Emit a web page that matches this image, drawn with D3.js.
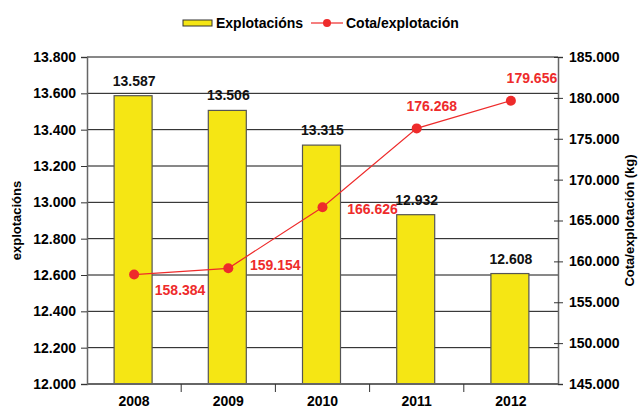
<!DOCTYPE html>
<html>
<head>
<meta charset="utf-8">
<script src="https://cdn.jsdelivr.net/npm/d3@7"></script>
<style>
  body { margin: 0; background: #fff; }
  text { font-family: "Liberation Sans", Arial, sans-serif; font-weight: bold; }
</style>
</head>
<body>
<script>
// data
const years = ["2008", "2009", "2010", "2011", "2012"];
const explotacions = [13587, 13506, 13315, 12932, 12608];
const cota = [158384, 159154, 166626, 176268, 179656];
const leftTicks = [12000, 12200, 12400, 12600, 12800, 13000, 13200, 13400, 13600, 13800];
const rightTicks = [145000, 150000, 155000, 160000, 165000, 170000, 175000, 180000, 185000];

// where each line label sits relative to its point
const cotaLabelOffset = [[46, 20], [47, 2], [50, 7], [15, -17], [21, -18]];

const W = 639, H = 410;
const margin = {top: 57, right: 81, bottom: 26, left: 87},
  width = W - margin.left - margin.right,
  height = H - margin.top - margin.bottom;

const fmt = v => d3.format(",")(v).replace(/,/g, ".");
const fs = "14px";

let svg = d3.select("body").append("svg")
  .attr("width", W)
  .attr("height", H);

let g = svg.append("g")
  .attr("transform", "translate(" + margin.left + "," + margin.top + ")");

let x = d3.scaleBand().domain(years).range([0, width]);
let yL = d3.scaleLinear().domain([12000, 13800]).range([height, 0]);
let yR = d3.scaleLinear().domain([145000, 185000]).range([height, 0]);

// gridlines
g.append("g")
  .selectAll("line")
  .data(leftTicks.slice(1))
  .enter().append("line")
  .attr("x1", 0).attr("x2", width)
  .attr("y1", d => yL(d)).attr("y2", d => yL(d))
  .attr("stroke", "#111").attr("stroke-width", 1);

// left axis
let axL = g.append("g")
  .call(d3.axisLeft(yL).tickValues(leftTicks).tickFormat(fmt).tickSize(6).tickPadding(5));
axL.selectAll("text").style("font-size", fs).attr("fill", "#000");

// right axis
let axR = g.append("g")
  .attr("transform", "translate(" + width + ",0)")
  .call(d3.axisRight(yR).tickValues(rightTicks).tickFormat(fmt).tickSize(5).tickPadding(6));
axR.selectAll("text").style("font-size", fs).attr("fill", "#000");
axR.selectAll(".tick line").attr("x1", -4);

[axL, axR].forEach(a => {
  a.select(".domain").attr("stroke", "#666").attr("stroke-width", 1.5);
  a.selectAll(".tick line").attr("stroke", "#333");
});

// bars
const barW = 38;
g.append("g")
  .selectAll("rect")
  .data(explotacions)
  .enter().append("rect")
  .attr("x", (d, i) => x(years[i]) + x.bandwidth() / 2 - barW / 2 - 1)
  .attr("y", d => yL(d))
  .attr("width", barW)
  .attr("height", d => height - yL(d))
  .attr("fill", "#f5e614")
  .attr("stroke", "#555")
  .attr("stroke-width", 1.2);

// bottom axis
let axB = g.append("g")
  .attr("transform", "translate(0," + height + ")");
axB.append("line")
  .attr("x1", 0).attr("x2", width)
  .attr("stroke", "#666").attr("stroke-width", 2);
axB.selectAll(".sep")
  .data(years.slice(1))
  .enter().append("line")
  .attr("x1", d => x(d)).attr("x2", d => x(d))
  .attr("y1", 0).attr("y2", 8)
  .attr("stroke", "#333");
axB.selectAll("text")
  .data(years)
  .enter().append("text")
  .attr("x", d => x(d) + x.bandwidth() / 2)
  .attr("y", 22)
  .attr("text-anchor", "middle")
  .style("font-size", fs)
  .text(d => d);

// bar labels
g.append("g")
  .selectAll("text")
  .data(explotacions)
  .enter().append("text")
  .attr("x", (d, i) => x(years[i]) + x.bandwidth() / 2)
  .attr("y", d => yL(d) - 10)
  .attr("text-anchor", "middle")
  .style("font-size", fs)
  .attr("fill", "#111")
  .text(d => fmt(d));

// line series
const red = "#ee2b2b";
let line = d3.line()
  .x((d, i) => x(years[i]) + x.bandwidth() / 2)
  .y(d => yR(d));

g.append("path")
  .datum(cota)
  .attr("d", line)
  .attr("fill", "none")
  .attr("stroke", red)
  .attr("stroke-width", 1.2);

g.append("g")
  .selectAll("circle")
  .data(cota)
  .enter().append("circle")
  .attr("cx", (d, i) => x(years[i]) + x.bandwidth() / 2)
  .attr("cy", d => yR(d))
  .attr("r", 5)
  .attr("fill", red);

g.append("g")
  .selectAll("text")
  .data(cota)
  .enter().append("text")
  .attr("x", (d, i) => x(years[i]) + x.bandwidth() / 2 + cotaLabelOffset[i][0])
  .attr("y", (d, i) => yR(d) + cotaLabelOffset[i][1])
  .attr("text-anchor", "middle")
  .style("font-size", fs)
  .attr("fill", red)
  .text(d => fmt(d));

// axis titles
svg.append("text")
  .attr("transform", "translate(21," + (margin.top + height / 2) + ") rotate(-90)")
  .attr("text-anchor", "middle")
  .style("font-size", "13px")
  .text("explotacións");

svg.append("text")
  .attr("transform", "translate(634," + (margin.top + height / 2) + ") rotate(-90)")
  .attr("text-anchor", "middle")
  .style("font-size", "13px")
  .text("Cota/explotación (kg)");

// legend
let lg = svg.append("g").attr("transform", "translate(183,23)");
lg.append("rect")
  .attr("x", 0).attr("y", -3)
  .attr("width", 29).attr("height", 6)
  .attr("fill", "#f5e614").attr("stroke", "#333");
lg.append("text")
  .attr("x", 33).attr("y", 5)
  .style("font-size", fs)
  .text("Explotacións");
lg.append("line")
  .attr("x1", 128).attr("x2", 160)
  .attr("stroke", red).attr("stroke-width", 1.2);
lg.append("circle")
  .attr("cx", 144).attr("r", 4).attr("fill", red);
lg.append("text")
  .attr("x", 163).attr("y", 5)
  .style("font-size", fs)
  .text("Cota/explotación");
</script>
</body>
</html>
